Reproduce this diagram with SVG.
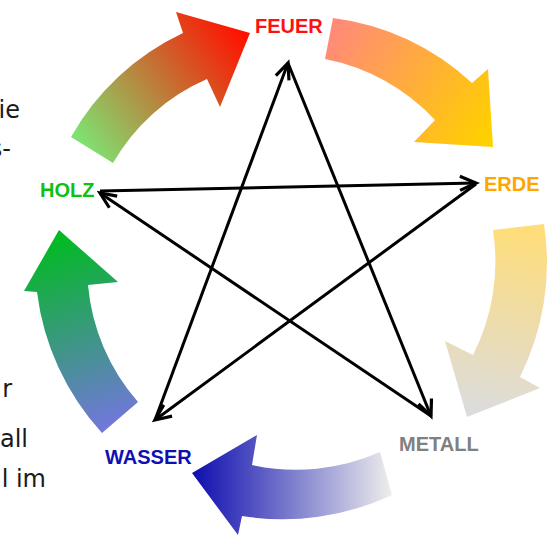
<svg xmlns="http://www.w3.org/2000/svg" width="556" height="536" viewBox="0 0 556 536">
<style>
.lbl{font-family:"Liberation Sans",Arial,sans-serif;font-weight:bold;font-size:20px}
.bg{font-family:"DejaVu Sans",sans-serif;font-size:24px;fill:#1a1a1a;text-anchor:end}
.star{stroke:#000;stroke-width:3;fill:none;marker-end:url(#ah)}
</style>
<defs>
<marker id="ah" markerUnits="userSpaceOnUse" markerWidth="24" markerHeight="24" viewBox="-20 -10 24 20" refX="0" refY="0" orient="auto">
<path d="M-16,-7 L0,0 L-16,7" fill="none" stroke="#000" stroke-width="3.2" stroke-linejoin="miter"/>
</marker>
<linearGradient id="g1" gradientUnits="userSpaceOnUse" x1="90" y1="152" x2="245" y2="38"><stop offset="0" stop-color="#80e070"/><stop offset="1" stop-color="#ff1200"/></linearGradient>
<linearGradient id="g2" gradientUnits="userSpaceOnUse" x1="328" y1="38" x2="485" y2="140"><stop offset="0" stop-color="#ff8a78"/><stop offset="1" stop-color="#ffd000"/></linearGradient>
<linearGradient id="g3" gradientUnits="userSpaceOnUse" x1="520" y1="226" x2="480" y2="412"><stop offset="0" stop-color="#ffdd78"/><stop offset="1" stop-color="#dcdcdc"/></linearGradient>
<linearGradient id="g4" gradientUnits="userSpaceOnUse" x1="390" y1="475" x2="195" y2="475"><stop offset="0" stop-color="#ececec"/><stop offset="1" stop-color="#1010b0"/></linearGradient>
<linearGradient id="g5" gradientUnits="userSpaceOnUse" x1="120" y1="420" x2="62" y2="234"><stop offset="0" stop-color="#7078d8"/><stop offset="1" stop-color="#00bb20"/></linearGradient>
</defs>
<text class="bg" x="20" y="118">ie</text>
<text class="bg" x="11" y="157">s-</text>
<text class="bg" x="12" y="397">r</text>
<text class="bg" x="28" y="447">all</text>
<text class="bg" x="46" y="487">l im</text>
<g id="connectors">
<path fill="url(#g1)" d="M71,137 A251,251 0 0 1 183,33 L176,12 L250,33 L220,107 L207,79 A200,200 0 0 0 113,163 Z"/>
<path fill="url(#g2)" d="M333,18 A250,250 0 0 1 472,83 L488,69 L493,147 L414,142 L435,120 A203,203 0 0 0 325,59 Z"/>
<path fill="url(#g3)" d="M544,224 A256,256 0 0 1 520,377 L540,388 L467,417 L445,341 L473,355 A206,206 0 0 0 493,230 Z"/>
<path fill="url(#g4)" d="M392,495 A258,258 0 0 1 242,516 L238,535 L192,473 L257,435 L252,465 A208,208 0 0 0 380,452 Z"/>
<path fill="url(#g5)" d="M102,433 A255,255 0 0 1 37,292 L24,291 L59,230 L118,282 L88,285 A205,205 0 0 0 138,402 Z"/>
<line class="star" x1="100" y1="191" x2="476" y2="183"/>
<line class="star" x1="476" y1="184" x2="155" y2="420"/>
<line class="star" x1="155" y1="420" x2="288" y2="63"/>
<line class="star" x1="288" y1="63" x2="431" y2="416"/>
<line class="star" x1="431" y1="416" x2="100" y2="193"/>
</g>
<g id="feuer"><text class="lbl" x="255" y="33" fill="#ff1010">FEUER</text></g>
<g id="erde"><text class="lbl" x="484" y="191" fill="#ffa500">ERDE</text></g>
<g id="metall"><text class="lbl" x="399" y="451" fill="#808080">METALL</text></g>
<g id="wasser"><text class="lbl" x="105" y="464" fill="#1010b0">WASSER</text></g>
<g id="holz"><text class="lbl" x="40" y="197" fill="#10c010">HOLZ</text></g>
</svg>
